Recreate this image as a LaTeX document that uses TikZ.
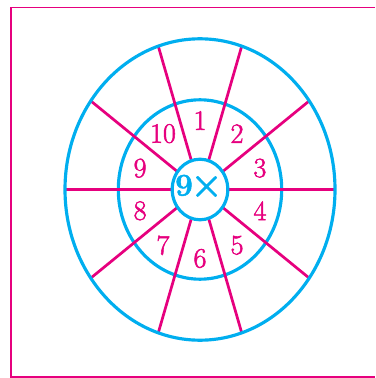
\documentclass[tikz,border=0pt]{standalone}
\usetikzlibrary{calc}
\definecolor{ccyan}{HTML}{00AEEF}
\definecolor{cmag}{HTML}{E6007E}
% slightly heavier glyphs: fill and stroke the text
\newcommand{\heavy}[2][0.3]{\special{pdf:literal q 2 Tr #1 w}#2\special{pdf:literal Q}}
\tikzset{
  ring/.style={draw=ccyan, line width=1.8pt},
  spoke/.style={draw=cmag, line width=1.55pt},
  frame/.style={draw=cmag, line width=1pt},
  num/.style={text=cmag, font=\fontsize{16}{19}\selectfont, inner sep=0pt},
  hubtext/.style={text=ccyan, font=\fontsize{18}{21}\selectfont\bfseries, inner sep=0pt},
}
\begin{document}
\begin{tikzpicture}[x=0.02cm, y=-0.02cm]
  \useasboundingbox (0,0) rectangle (375,378);
  % frame, open on the right
  \coordinate (f1) at (375,7.5);
  \coordinate (f2) at (11,7.5);
  \coordinate (f3) at (11,377);
  \coordinate (f4) at (375,377);
  \draw[frame] (f1) -- (f2) -- (f3) -- (f4);
  \begin{scope}[shift={(200,189.5)}]
    \coordinate (c) at (0,0);
    % inner ring
    \draw[ring] (c) ellipse [x radius=81.7, y radius=89.7];
    % ten spokes from hub to outer ring
    \foreach \k in {0,...,9} {
      \coordinate (in\k) at (\k*36:27.8 and 30.3);
      \coordinate (out\k) at (\k*36:135 and 150.7);
      \draw[spoke] (in\k) -- (out\k);
    }
    % outer ring and hub
    \draw[ring] (c) ellipse [x radius=135, y radius=150.7];
    \draw[ring] (c) ellipse [x radius=27.8, y radius=30.3];
    \node[hubtext] (hub) at (-1,-3) {\heavy[0.25]{9\kern-1.5pt{\fontsize{22}{24}\selectfont\boldmath$\times$}}};
    % sector numbers
    \foreach \n [evaluate=\n as \a using 36*\n-126] in {1,...,10}
      \node[num] (n\n) at (\a:63 and 69) {\heavy{\n}};
  \end{scope}
\end{tikzpicture}
\end{document}
